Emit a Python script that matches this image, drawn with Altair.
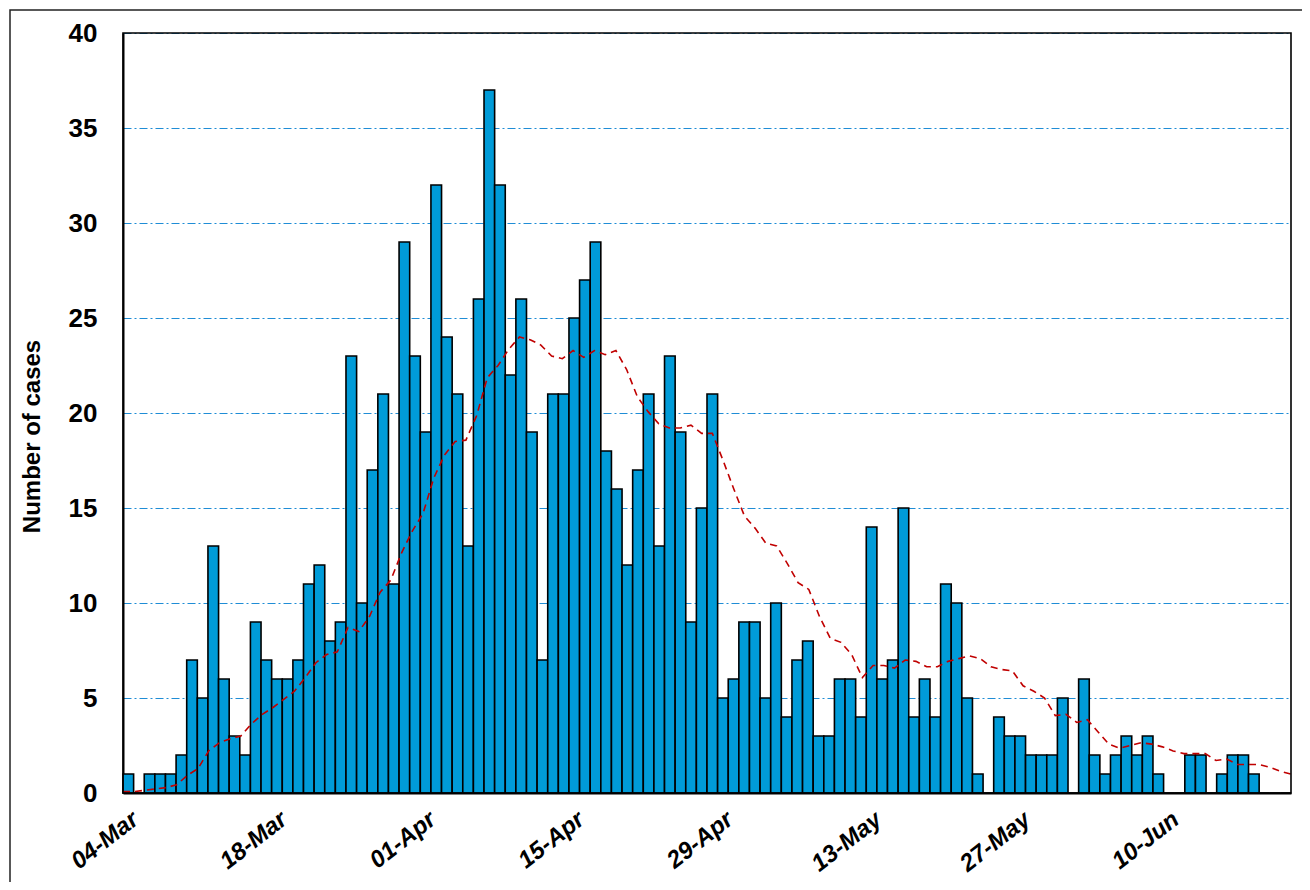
import altair as alt
import pandas as pd

# ---- data ----
start_date = "2020-03-04"
cases = [1, 0, 1, 1, 1, 2, 7, 5, 13, 6,
         3, 2, 9, 7, 6, 6, 7, 11, 12, 8,
         9, 23, 10, 17, 21, 11, 29, 23, 19, 32,
         24, 21, 13, 26, 37, 32, 22, 26, 19, 7,
         21, 21, 25, 27, 29, 18, 16, 12, 17, 21,
         13, 23, 19, 9, 15, 21, 5, 6, 9, 9,
         5, 10, 4, 7, 8, 3, 3, 6, 6, 4,
         14, 6, 7, 15, 4, 6, 4, 11, 10, 5,
         1, 0, 4, 3, 3, 2, 2, 2, 5, 0,
         6, 2, 1, 2, 3, 2, 3, 1, 0, 0,
         2, 2, 0, 1, 2, 2, 1, 0, 0, 0]
tick_labels = ["04-Mar", "18-Mar", "01-Apr", "15-Apr", "29-Apr", "13-May", "27-May", "10-Jun"]
y_ticks = [0, 5, 10, 15, 20, 25, 30, 35, 40]
avg_window = 14

dates = pd.date_range(start_date, periods=len(cases)).strftime("%d-%b").tolist()
df = pd.DataFrame({"day": list(range(len(cases))), "date": dates, "cases": cases})

W, H = 1168, 760
FONT = "Liberation Sans"

bars = alt.Chart(df).mark_bar(color="#009BD8", stroke="black", strokeWidth=1.6).encode(
    x=alt.X("date:O", sort=dates,
            scale=alt.Scale(paddingInner=0, paddingOuter=0),
            axis=alt.Axis(values=tick_labels, labelAngle=-38, ticks=False,
                          domainColor="black", domainWidth=2,
                          labelFont=FONT, labelFontSize=24, labelFontWeight="bold",
                          labelFontStyle="italic",
                          labelColor="black", labelPadding=14, title=None, grid=False)),
    y=alt.Y("cases:Q", scale=alt.Scale(domain=[0, 40], nice=False),
            axis=alt.Axis(values=y_ticks, ticks=False, domainColor="black", domainWidth=2,
                          grid=True, gridColor="#1F8DD6", gridDash=[8, 3, 2, 3], gridWidth=1.2,
                          labelFont=FONT, labelFontSize=26, labelFontWeight="bold",
                          labelColor="black", labelPadding=26,
                          title="Number of cases", titleFont=FONT, titleFontSize=24,
                          titleFontWeight="bold", titleColor="black", titleAngle=-90,
                          titleX=-84, titleY=403, titleAlign="center",
                          titleBaseline="alphabetic")),
)

line = alt.Chart(df).transform_window(
    s="sum(cases)", frame=[-(avg_window - 1), 0], sort=[alt.SortField("day")]
).transform_calculate(
    ma=f"datum.s/{avg_window}"
).mark_line(color="#C00000", strokeDash=[7, 5], strokeWidth=1.6).encode(
    x=alt.X("day:Q", scale=alt.Scale(domain=[0, len(cases) - 1], nice=False, zero=False), axis=None),
    y=alt.Y("ma:Q", title="Number of cases"),
)

one = pd.DataFrame({"k": [0]})
border = alt.Chart(one).mark_rect(filled=False, stroke="black", strokeWidth=1.6).encode(
    x=alt.value(0), x2=alt.value(W), y=alt.value(0), y2=alt.value(H)
)
frame = alt.Chart(one).mark_rect(filled=False, stroke="#222222", strokeWidth=1.5).encode(
    x=alt.value(-113), x2=alt.value(W + 200), y=alt.value(-23), y2=alt.value(H + 300)
)

chart = alt.layer(bars, line, border, frame).resolve_scale(x="independent").properties(
    width=W, height=H,
    padding={"left": 115, "top": 25, "right": 11, "bottom": 89},
    autosize=alt.AutoSizeParams(type="none"),
    background="white",
).configure_view(stroke=None)

chart.save("out.html", embed_options={"renderer": "svg", "actions": False})
